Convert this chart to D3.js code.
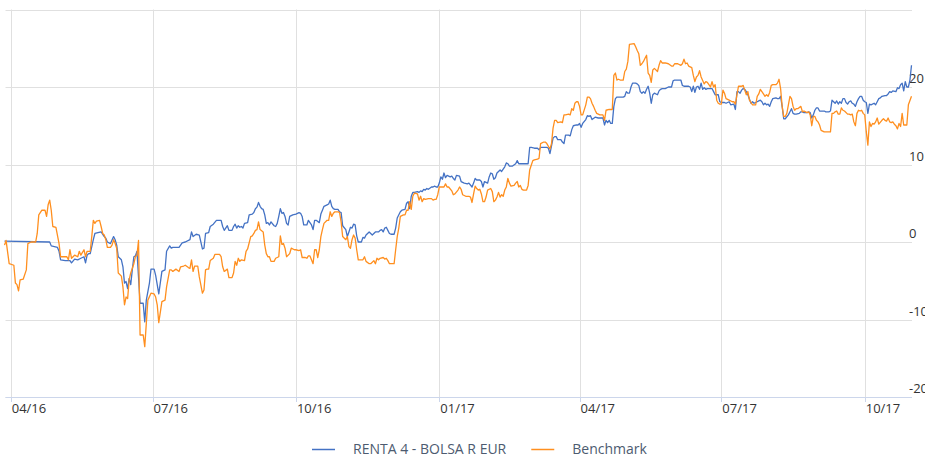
<!DOCTYPE html>
<html>
<head>
	<meta charset="utf-8">
	<title>RENTA 4 - BOLSA R EUR vs Benchmark</title>
	<script src="https://d3js.org/d3.v7.min.js"></script>
	<style>
		body { margin: 0; background: #fff; }
		text { font-family: "Open Sans", sans-serif; }
	</style>
</head>
<body>

<div id="viz"></div>

<script>

// Series data: day number counted from startDay, cumulative return in %
var startDay = "2016-03-28";

var rentaDays = [0,29,30,34,35,36,39,42,43,45,47,49,51,52,53,54,55,57,58,60,62,64,65,66,68,70,71,72,73,75,76,77,78,79,80,81,82,83,84,85,87,89,90,91,93,94,
	96,97,99,101,103,104,106,107,108,110,112,114,116,119,120,121,123,125,127,128,129,131,132,134,136,138,139,140,141,143,144,146,147,148,149,150,151,152,153,154,156,157,159,160,161,162,163,164,165,166,167,168,169,170,171,173,174,175,176,177,178,179,180,181,182,183,185,187,189,
	190,191,192,194,195,196,197,198,199,200,202,203,204,205,207,208,209,210,211,212,214,215,216,217,219,220,221,222,223,224,225,226,227,229,230,231,232,234,236,238,240,241,242,243,244,245,246,247,248,250,251,252,254,255,257,258,259,260,261,262,263,265,266,267,268,269,270,271,272,274,275,276,277,278,
	279,280,281,282,283,284,286,287,288,289,290,292,293,295,297,298,300,301,302,303,305,306,307,308,310,311,312,313,314,315,316,317,318,319,321,322,323,324,326,328,329,330,332,334,336,337,338,340,342,343,344,346,348,349,350,351,352,353,354,355,357,358,359,360,361,362,363,364,365,367,368,369,370,371,373,374,
	375,376,377,379,381,383,384,385,386,387,388,389,390,391,392,393,395,397,398,399,400,401,402,403,404,405,406,407,408,409,410,411,412,413,414,415,416,417,419,420,421,422,424,426,428,429,430,432,434,435,436,438,439,440,441,442,443,444,445,446,447,448,449,450,451,453,454,455,456,458,459,460,462,463,465,466,468,469,470,471,472,473,474,475,476,477,
	479,480,481,483,484,485,486,487,488,489,490,491,492,493,495,496,497,498,499,500,501,503,504,505,506,507,508,510,511,512,513,514,515,516,517,518,519,520,521,522,523,524,526,527,529,530,531,532,533,534,535,536,537,538,539,540,541,542,543,544,545,546,547,548,549,550,551,552,553,554,555,556,558,559,560,561,562,563,565,566,567,568,569,570,572,573,574,575,576,577,578,579,580,581,582];

var rentaValues = [0.1,0.0,-0.5,-0.7,-1.2,-2.3,-2.4,-2.4,-2.7,-2.2,-2.3,-2.1,-1.9,-2.7,-1.7,-1.5,-1.5,0.3,1.1,1.2,1.3,0.7,0.5,0.0,-0.2,0.7,0.3,-0.4,-1.9,-2.3,-3.2,-5.3,-5.1,-6.0,-4.7,-5.5,-3.6,-1.9,-1.8,-1.2,-7.9,-7.9,-10.3,-7.5,-5.3,-3.5,
	-3.5,-4.3,-6.7,-3.8,-3.6,-1.2,-0.5,-0.8,-0.7,-0.7,-0.7,-0.1,0.0,0.3,1.3,0.7,1.0,0.9,-0.9,-0.8,1.1,1.2,2.0,2.3,2.8,2.8,2.8,2.0,1.5,2.1,1.5,1.5,2.0,2.3,1.8,2.1,1.9,2.0,1.8,2.4,2.5,3.5,3.6,3.8,4.3,4.5,5.1,4.6,4.3,4.2,3.5,2.4,2.5,2.2,2.6,2.1,2.0,2.4,3.3,4.3,3.7,3.8,3.3,2.4,2.2,3.3,3.5,3.6,3.8,
	3.7,3.3,2.2,2.2,2.8,2.5,2.2,1.6,2.8,2.8,2.5,3.6,4.1,4.6,4.8,4.9,5.4,4.6,4.3,4.2,4.2,3.9,3.8,2.1,1.6,0.7,1.3,1.9,1.8,2.3,2.2,0.8,0.0,0.0,0.6,0.5,0.9,1.3,0.9,1.3,1.3,1.5,1.6,1.3,1.8,1.9,1.5,1.1,1.0,1.0,1.8,3.1,3.9,4.1,4.2,5.0,5.2,4.3,5.9,6.4,6.4,6.5,6.4,6.6,6.5,6.8,6.7,6.9,6.8,7.1,7.1,7.2,7.1,7.1,
	7.6,8.4,8.1,8.9,8.3,8.6,8.4,8.5,8.2,8.0,8.6,8.5,7.8,7.6,7.5,7.6,7.1,7.6,8.2,8.0,8.0,7.8,7.1,7.8,7.6,8.4,8.9,8.8,8.1,8.3,8.9,9.1,9.3,9.1,9.7,10.2,10.1,9.8,9.8,10.1,10.5,10.1,10.1,10.1,10.1,12.2,12.2,12.1,12.1,11.9,12.2,12.2,12.2,12.1,11.4,12.4,13.4,13.6,13.6,13.2,13.2,12.9,12.7,13.8,13.8,13.8,13.7,14.5,15.0,15.1,15.1,15.3,14.8,15.3,15.8,16.3,
	16.2,16.3,15.8,16.1,16.0,16.0,16.0,15.1,15.7,15.4,15.7,15.3,15.3,17.5,18.5,18.7,18.7,18.7,18.8,19.4,19.2,19.2,20.0,20.5,20.5,20.5,20.4,20.2,19.4,19.2,19.4,19.2,19.7,20.1,19.2,17.9,19.0,19.2,19.0,19.5,19.7,19.8,19.8,20.0,20.0,20.8,20.9,20.9,20.9,20.2,20.1,20.1,20.1,20.0,19.4,20.1,19.3,20.0,20.1,19.7,20.5,19.7,19.9,19.7,19.8,19.8,19.8,19.4,19.0,19.0,18.1,18.0,18.0,17.9,18.1,17.7,17.8,17.1,19.4,19.4,19.2,19.6,19.8,19.7,19.4,19.0,
	17.9,18.1,17.9,18.1,18.2,18.3,18.1,17.7,17.9,17.7,17.8,17.5,18.1,18.5,18.6,18.5,18.5,18.8,17.5,15.9,15.9,16.4,16.8,17.2,16.6,16.5,16.5,16.6,16.8,16.8,16.7,16.7,16.7,16.8,16.7,16.0,16.4,17.0,17.3,17.3,16.9,16.9,16.9,16.8,16.8,16.9,18.3,18.1,17.9,18.2,17.8,18.1,17.9,18.5,18.5,18.0,17.8,18.1,18.2,17.9,17.8,17.5,18.1,18.5,18.8,18.8,18.3,18.1,18.0,16.6,17.8,17.7,17.9,17.7,18.1,18.5,18.6,18.8,18.9,18.9,19.1,19.4,19.3,19.5,19.4,19.9,19.8,20.3,20.5,19.5,20.7,20.0,20.0,20.9,22.8];

var benchDays = [0,1,3,6,7,8,9,10,12,14,15,17,20,21,22,24,26,27,28,29,30,31,33,35,36,38,40,41,42,43,45,47,48,49,51,52,53,55,56,57,58,59,61,62,63,64,65,66,68,69,70,71,72,73,75,76,77,78,79,80,81,83,84,85,86,87,89,90,92,94,
	96,97,98,99,101,103,104,106,107,108,110,112,113,115,116,118,119,120,121,122,124,125,127,128,129,130,131,132,134,135,138,139,140,141,143,144,146,147,148,149,150,151,152,154,155,156,158,159,160,161,162,163,164,166,167,168,169,170,171,173,174,176,177,178,179,180,181,183,184,186,187,189,
	190,191,193,194,195,196,198,199,200,201,202,203,204,205,207,208,209,210,211,212,214,215,216,217,219,220,221,222,223,224,225,226,227,229,230,231,232,234,235,237,238,239,240,241,243,244,245,246,247,248,250,251,252,253,254,256,257,258,259,260,261,262,263,265,266,267,268,269,270,272,274,275,276,277,278,
	279,280,282,283,284,285,287,288,289,291,292,293,294,296,298,299,300,301,302,303,304,305,306,307,308,309,310,312,313,314,315,316,317,318,319,320,321,322,323,324,325,327,328,329,330,331,332,333,335,336,337,338,339,340,342,343,344,346,347,348,350,351,352,353,354,355,357,358,359,360,362,363,364,365,366,367,368,369,370,371,373,374,
	375,376,377,378,379,380,382,384,385,386,388,390,391,392,393,394,395,397,398,399,400,401,404,405,406,407,408,409,410,411,412,413,414,415,416,417,419,420,421,422,424,426,428,429,430,432,434,435,436,437,438,439,441,442,443,444,445,446,447,449,450,451,452,453,454,455,456,457,458,459,460,461,462,463,465,467,468,469,470,471,473,474,475,476,477,
	478,480,482,483,484,485,486,487,488,489,490,491,492,493,495,496,497,498,499,500,501,502,503,504,505,506,507,508,509,511,512,513,514,515,516,517,518,519,520,521,522,523,524,526,528,530,531,532,533,534,535,536,537,538,539,541,542,543,544,545,546,547,548,549,550,551,552,553,554,555,556,557,558,559,560,561,563,564,565,566,567,568,569,570,571,572,573,574,575,576,577,578,579,580,582];

var benchValues = [-0.4,0.2,-2.8,-3.0,-5.3,-5.5,-6.3,-4.9,-4.8,-3.6,-0.2,0.0,0.0,1.1,3.5,4.1,4.1,3.3,4.8,5.4,4.1,2.0,1.9,-0.2,-1.9,-1.9,-1.9,-2.3,-1.0,-2.1,-1.7,-1.9,-1.2,-1.7,-1.0,-1.9,-1.2,-1.2,0.7,2.8,2.4,2.7,2.8,2.0,1.1,0.9,0.3,-0.7,-0.7,-0.4,0.3,-0.2,-0.8,-4.0,-4.4,-5.8,-8.1,-7.1,-7.3,-4.9,-4.0,-2.8,-1.9,-1.7,0.2,-12.0,-12.0,-13.5,-7.5,-6.6,
	-6.7,-7.1,-8.1,-10.4,-7.7,-7.5,-5.8,-3.6,-3.6,-3.8,-3.5,-3.8,-3.2,-3.1,-3.0,-3.3,-3.4,-2.3,-3.8,-3.1,-3.1,-4.5,-6.6,-6.2,-3.6,-3.5,-3.5,-2.4,-2.1,-1.6,-1.6,-1.9,-3.2,-3.8,-3.5,-4.6,-4.6,-4.0,-2.5,-3.0,-2.1,-2.5,-2.3,-2.4,-1.2,-0.9,0.7,0.8,1.1,1.5,1.6,2.6,1.6,1.3,-0.4,-1.5,-1.9,-1.9,-2.5,-2.5,-2.1,-1.9,0.8,-0.3,-0.2,-0.8,-1.9,-1.5,-0.8,-1.0,-1.0,-1.1,
	-1.0,-2.0,-2.0,-2.1,-1.8,-1.8,-2.8,-1.0,-1.0,-2.0,-1.0,0.7,1.6,2.4,2.8,2.8,3.9,3.3,3.7,3.9,3.9,3.8,2.6,0.7,0.3,0.7,-0.6,-0.8,0.3,0.9,0.5,-1.0,-2.3,-2.3,-2.3,-1.9,-2.5,-2.8,-2.8,-2.4,-2.8,-2.1,-2.3,-2.1,-2.0,-2.2,-2.1,-2.4,-2.8,-2.8,-2.8,-1.0,0.7,1.8,3.3,3.5,3.5,4.1,4.1,5.2,4.2,5.9,6.3,6.2,5.4,5.9,5.2,5.6,5.5,5.6,5.6,5.4,5.5,5.5,6.1,
	7.1,7.1,7.1,7.5,7.1,7.1,6.6,6.1,6.2,6.7,7.1,6.8,6.1,5.9,5.9,5.8,5.1,6.2,7.2,6.9,6.7,6.8,6.2,5.2,5.2,5.8,6.7,6.9,6.5,5.2,5.4,5.8,6.4,5.8,6.1,5.9,6.7,7.1,8.2,7.6,7.2,7.3,7.6,7.8,7.1,7.3,6.8,6.7,6.7,7.3,9.3,9.9,10.5,10.6,10.7,10.8,12.7,12.9,12.9,12.7,12.0,12.7,14.7,15.7,15.7,15.4,15.5,15.4,16.4,16.4,16.5,16.4,17.2,17.0,17.9,18.1,18.1,17.5,16.4,16.4,17.7,18.7,
	18.7,18.5,17.9,17.5,17.0,16.6,16.4,16.4,15.7,17.0,17.1,17.1,21.5,21.8,20.9,21.0,20.9,20.9,22.0,22.3,23.3,25.5,25.6,25.2,24.7,24.3,22.8,23.0,23.3,23.7,24.1,21.8,21.5,20.6,22.2,22.4,22.0,22.8,23.4,23.1,23.1,23.0,22.7,22.7,23.0,23.0,22.8,23.0,23.6,23.0,23.1,22.7,22.5,21.5,20.7,21.3,21.5,22.1,21.3,20.4,20.7,20.6,20.3,20.0,20.7,20.0,20.3,18.3,17.9,17.8,17.8,19.6,19.2,18.5,18.3,18.1,18.1,17.8,19.0,20.1,20.1,20.2,19.6,19.0,19.4,
	18.3,17.7,17.7,18.8,19.1,19.7,19.4,19.1,18.8,19.0,18.8,19.3,20.2,20.3,20.3,20.5,21.0,19.8,17.5,16.2,16.2,16.6,17.7,18.8,18.5,17.5,17.0,17.2,17.2,17.5,16.8,16.9,16.8,16.7,16.8,16.4,15.0,16.2,16.2,15.7,15.5,15.1,14.4,14.2,14.2,14.2,16.6,16.6,16.8,16.9,16.5,16.5,17.3,17.0,16.9,16.5,16.5,16.4,16.5,15.5,15.0,16.6,17.0,16.9,17.0,16.6,16.4,14.2,12.5,15.5,14.9,15.3,15.2,15.5,16.0,15.2,15.7,15.9,15.7,15.6,16.0,15.5,15.4,15.5,15.2,15.0,14.6,15.3,14.9,16.6,15.1,15.1,15.1,17.7,18.8];

var yTicks = [-20, -10, 0, 10, 20, 30];
var yTickLabels = ["-20", "-10", "0", "10", "20", ""];
var xTicks = ["2016-04-01", "2016-07-01", "2016-10-01", "2017-01-01", "2017-04-01", "2017-07-01", "2017-10-01"];
var xTickLabels = ["04/16", "07/16", "10/16", "01/17", "04/17", "07/17", "10/17"];
var seriesNames = ["RENTA 4 - BOLSA R EUR", "Benchmark"];
var seriesColors = ["#4472c4", "#ff8f1f"];

//Basic visual setup
var width = 925, height = 458;
var plot = {left: 4.5, right: 911.5, top: 9.5, bottom: 397};

var parseDay = d3.utcParse("%Y-%m-%d");
var start = parseDay(startDay);
function toDate(n) { return d3.utcDay.offset(start, n); }

var renta = rentaDays.map(function(d, i) { return {date: toDate(d), value: rentaValues[i]}; });
var bench = benchDays.map(function(d, i) { return {date: toDate(d), value: benchValues[i]}; });

var svg = d3.select("#viz")
	.append("svg")
		.attr("width", width)
		.attr("height", height);

var x = d3.scaleUtc()
	.domain(d3.extent(renta.concat(bench), function(d) { return d.date; }))
	.range([plot.left, plot.right]);

var y = d3.scaleLinear()
	.domain([-20, 30])
	.range([plot.bottom, plot.top]);

// horizontal grid
svg.append("g")
	.selectAll("line")
	.data(yTicks)
	.join("line")
		.attr("x1", plot.left + 1)
		.attr("x2", 912)
		.attr("y1", function(d) { return Math.round(y(d)) + 0.5; })
		.attr("y2", function(d) { return Math.round(y(d)) + 0.5; })
		.attr("stroke", "#e0e0e0")
		.attr("stroke-width", 1);

// vertical grid + ticks
var xt = xTicks.map(parseDay);
svg.append("g")
	.selectAll("line")
	.data(xt)
	.join("line")
		.attr("x1", function(d) { return Math.round(x(d)) + 0.5; })
		.attr("x2", function(d) { return Math.round(x(d)) + 0.5; })
		.attr("y1", plot.top)
		.attr("y2", plot.bottom)
		.attr("stroke", "#e0e0e0")
		.attr("stroke-width", 1);

svg.append("line")
	.attr("x1", plot.left + 1)
	.attr("x2", 912)
	.attr("y1", plot.bottom + 0.5)
	.attr("y2", plot.bottom + 0.5)
	.attr("stroke", "#ccd6eb");

svg.append("g")
	.selectAll("line")
	.data(xt)
	.join("line")
		.attr("x1", function(d) { return Math.round(x(d)) + 0.5; })
		.attr("x2", function(d) { return Math.round(x(d)) + 0.5; })
		.attr("y1", plot.bottom)
		.attr("y2", plot.bottom + 5)
		.attr("stroke", "#ccd6eb");

// x labels
svg.append("g")
	.selectAll("text")
	.data(xt)
	.join("text")
		.attr("x", function(d) { return x(d) + 1; })
		.attr("y", 413)
		.attr("font-size", "13px")
		.attr("fill", "#333")
		.text(function(d, i) { return xTickLabels[i]; });

// y labels (right side, partly cut by the frame as in the source)
svg.append("g")
	.selectAll("text")
	.data(yTicks)
	.join("text")
		.attr("x", 909)
		.attr("y", function(d) { return y(d) - 4; })
		.attr("font-size", "13px")
		.attr("fill", "#333")
		.text(function(d, i) { return yTickLabels[i]; });

// the lines
var line = d3.line()
	.x(function(d) { return x(d.date); })
	.y(function(d) { return y(d.value); });

[renta, bench].forEach(function(s, i) {
	svg.append("path")
		.datum(s)
		.attr("fill", "none")
		.attr("stroke", seriesColors[i])
		.attr("stroke-width", 1.3)
		.attr("stroke-linejoin", "round")
		.attr("d", line);
});

// legend
var legend = svg.append("g").attr("transform", "translate(312,449)");
var cursor = 0;
seriesNames.forEach(function(name, i) {
	var g = legend.append("g").attr("transform", "translate(" + cursor + ",0)");
	g.append("line")
		.attr("x1", 0).attr("x2", 23)
		.attr("y1", 0.5).attr("y2", 0.5)
		.attr("stroke", seriesColors[i])
		.attr("stroke-width", 1.5);
	var t = g.append("text")
		.attr("x", 41)
		.attr("y", 5)
		.attr("font-size", "14px")
		.attr("fill", "#4d5b70")
		.text(name);
	cursor += 41 + t.node().getComputedTextLength() + 25;
});

</script>

</body>
</html>
